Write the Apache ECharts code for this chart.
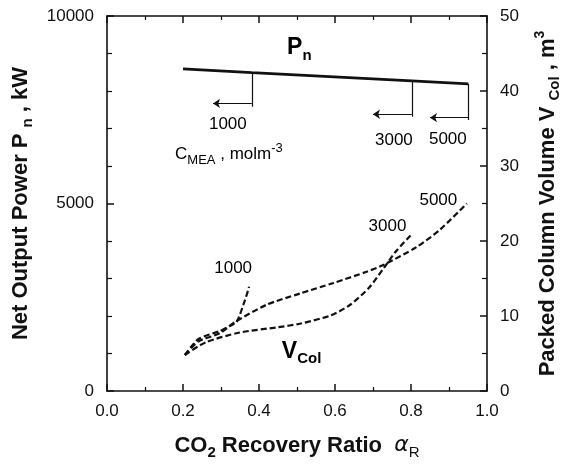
<!DOCTYPE html>
<html>
<head>
<meta charset="utf-8">
<script src="https://cdn.jsdelivr.net/npm/echarts@6/dist/echarts.min.js"></script>
<style>
  html, body { margin: 0; padding: 0; background: #fff; }
  #chart { width: 563px; height: 470px; }
</style>
</head>
<body>
<div id="chart"></div>
<script>
// Net output power Pn (kW) against CO2 recovery ratio
const pnRatio = [0.2, 0.381, 0.802, 0.951];
const pnPower = [8590, 8490, 8270, 8190];

// Packed column volume (m3) for each MEA concentration
const v1000Ratio = [0.205, 0.24, 0.297, 0.324, 0.341, 0.363, 0.374];
const v1000Vol   = [4.8, 6.9, 8.0, 8.7, 9.2, 12.1, 13.9];

const v3000Ratio = [0.205, 0.26, 0.35, 0.45, 0.51, 0.59, 0.64, 0.69, 0.73, 0.76, 0.80];
const v3000Vol   = [4.8, 6.5, 7.8, 8.5, 9.0, 10.1, 11.5, 13.8, 16.5, 18.6, 20.8];

const v5000Ratio = [0.205, 0.24, 0.297, 0.337, 0.42, 0.508, 0.596, 0.683, 0.727, 0.815, 0.876, 0.947];
const v5000Vol   = [4.8, 6.6, 7.7, 9.2, 11.5, 13.0, 14.4, 15.9, 16.8, 19.2, 21.5, 25.0];

// Pointers from the Pn line to each concentration label
const concentrations = ['1000', '3000', '5000'];
const dropRatio   = [0.381, 0.802, 0.951];
const dropTop     = [8490, 8270, 8190];
const dropBottom  = [7580, 7315, 7227];
const arrowPower  = [7670, 7380, 7290];
const arrowTip    = [0.279, 0.700, 0.850];

// Axis ticks
const xTicks = { min: 0, max: 1, step: 0.2 };
const powerTicks = { min: 0, max: 10000, step: 5000 };
const volumeTicks = { min: 0, max: 50, step: 10 };

const FONT = 'Liberation Sans, Arial, sans-serif';
const INK = '#111';

const pairs = (xs, ys) => xs.map((x, i) => [x, ys[i]]);

const chart = echarts.init(document.getElementById('chart'), null, { renderer: 'canvas' });

const tickLabel = { color: INK, fontFamily: FONT, fontSize: 17 };
const richName = {
  b: { fontFamily: FONT, fontSize: 22, fontWeight: 'bold', color: INK },
  s: { fontFamily: FONT, fontSize: 15, fontWeight: 'bold', color: INK, padding: [14, 0, 0, 0] },
  p: { fontFamily: FONT, fontSize: 14, fontWeight: 'bold', color: INK, padding: [0, 0, 14, 0] },
  g: { fontFamily: 'DejaVu Sans, sans-serif', fontSize: 22, fontStyle: 'italic', color: INK },
  sr: { fontFamily: FONT, fontSize: 15, color: INK, padding: [14, 0, 0, 0] }
};

function axisBase(extra, minorSplit, minorLen) {
  return Object.assign({
    axisLine: { show: true, onZero: false, lineStyle: { color: INK, width: 1.6 } },
    axisTick: { show: true, inside: true, length: 7, lineStyle: { color: INK, width: 1.5 } },
    minorTick: { show: true, splitNumber: minorSplit, length: minorLen, lineStyle: { color: INK, width: 1.2 } },
    splitLine: { show: false },
    minorSplitLine: { show: false }
  }, extra);
}

chart.setOption({
  backgroundColor: '#fff',
  animation: false,
  grid: { left: 107, right: 76, top: 16, bottom: 79, containLabel: false, outerBoundsMode: 'none' },
  xAxis: [
    axisBase({
      type: 'value', position: 'bottom',
      min: xTicks.min, max: xTicks.max, interval: xTicks.step,
      axisLabel: Object.assign({ margin: 12, formatter: v => v.toFixed(1) }, tickLabel),
      name: '{b|CO}{s|2}{b| Recovery Ratio  }{g|α}{sr|R}',
      nameLocation: 'middle', nameGap: 40,
      nameTextStyle: { rich: richName }
    }, 2, 4),
    axisBase({
      type: 'value', position: 'top',
      min: xTicks.min, max: xTicks.max, interval: xTicks.step,
      axisLabel: { show: false }
    }, 2, 4)
  ],
  yAxis: [
    axisBase({
      type: 'value', position: 'left',
      min: powerTicks.min, max: powerTicks.max, interval: powerTicks.step,
      axisLabel: Object.assign({ margin: 13, formatter: v => String(v) }, tickLabel),
      name: '{b|Net Output Power P }{s|n}{b| , kW}',
      nameLocation: 'middle', nameGap: 70,
      nameTextStyle: { rich: richName }
    }, 5, 5),
    axisBase({
      type: 'value', position: 'right',
      min: volumeTicks.min, max: volumeTicks.max, interval: volumeTicks.step,
      axisLabel: Object.assign({ margin: 13, formatter: v => String(v) }, tickLabel),
      name: '{b|Packed Column Volume V }{s|Col}{b| , m}{p|3}',
      nameLocation: 'middle', nameGap: 46,
      nameTextStyle: { rich: richName }
    }, 2, 5)
  ],
  series: [
    {
      name: 'Pn', type: 'line', xAxisIndex: 0, yAxisIndex: 0,
      data: pairs(pnRatio, pnPower), showSymbol: false, symbol: 'none',
      lineStyle: { color: INK, width: 2.6 }
    },
    {
      name: 'drops', type: 'lines', coordinateSystem: 'cartesian2d', xAxisIndex: 0, yAxisIndex: 0,
      symbol: ['none', 'none'],
      lineStyle: { color: INK, width: 1.2, opacity: 1 },
      data: dropRatio.map((x, i) => ({ coords: [[x, dropTop[i]], [x, dropBottom[i]]] }))
    },
    {
      name: 'arrows', type: 'lines', coordinateSystem: 'cartesian2d', xAxisIndex: 0, yAxisIndex: 0,
      symbol: ['none', 'arrow'], symbolSize: [0, 7],
      lineStyle: { color: INK, width: 1.2, opacity: 1 },
      data: dropRatio.map((x, i) => ({ coords: [[x, arrowPower[i]], [arrowTip[i], arrowPower[i]]] }))
    },
    ...[[v1000Ratio, v1000Vol], [v3000Ratio, v3000Vol], [v5000Ratio, v5000Vol]].map(([xs, ys], k) => ({
      name: 'V' + concentrations[k], type: 'line', xAxisIndex: 0, yAxisIndex: 1,
      data: pairs(xs, ys), showSymbol: false, symbol: 'none', smooth: 0.25,
      lineStyle: { color: INK, width: 2.2, type: [6, 3] }
    }))
  ]
});

// Annotations, anchored in data space
const onPower = (x, y) => chart.convertToPixel({ xAxisIndex: 0, yAxisIndex: 0 }, [x, y]);
const onVolume = (x, y) => chart.convertToPixel({ xAxisIndex: 0, yAxisIndex: 1 }, [x, y]);

const richNote = {
  r: { fontFamily: FONT, fontSize: 17, color: INK },
  rs: { fontFamily: FONT, fontSize: 13, color: INK, padding: [12, 0, 0, 0] },
  rp: { fontFamily: FONT, fontSize: 13, color: INK, padding: [0, 0, 12, 0] },
  B: { fontFamily: FONT, fontSize: 23, fontWeight: 'bold', color: INK },
  Bs: { fontFamily: FONT, fontSize: 15, fontWeight: 'bold', color: INK, padding: [16, 0, 0, 0] }
};

function note(pt, text, align, vAlign) {
  return {
    type: 'text', x: pt[0], y: pt[1], silent: true,
    style: { text, align: align || 'center', verticalAlign: vAlign || 'middle', rich: richNote }
  };
}

const notes = [
  note(onPower(0.474, 9150), '{B|P}{Bs|n}', 'left'),
  note(onPower(0.318, 7120), '{r|1000}'),
  note(onPower(0.755, 6693), '{r|3000}'),
  note(onPower(0.897, 6720), '{r|5000}'),
  note(onPower(0.179, 6320), '{r|C}{rs|MEA}{r| , molm}{rp|-3}', 'left'),
  note(onVolume(0.332, 16.4), '{r|1000}'),
  note(onVolume(0.738, 21.9), '{r|3000}'),
  note(onVolume(0.872, 25.4), '{r|5000}'),
  note(onVolume(0.46, 5.3), '{B|V}{Bs|Col}', 'left')
];

chart.setOption({ graphic: notes });
</script>
</body>
</html>
